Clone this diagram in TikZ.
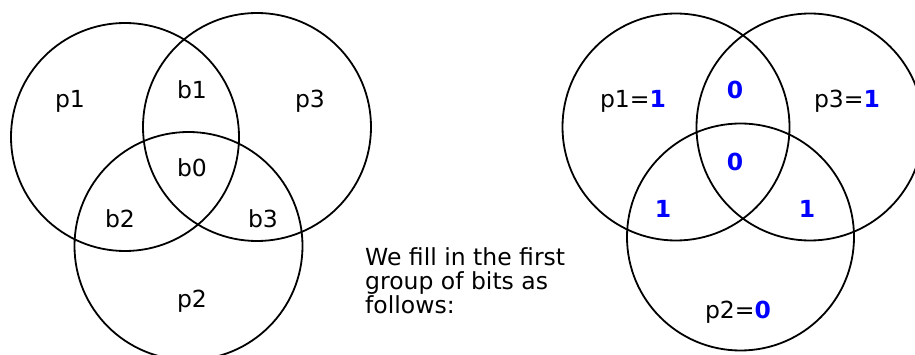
\documentclass[tikz,border=0pt]{standalone}
\usepackage{fontspec}
\setmainfont{DejaVu Sans}
\definecolor{bitblue}{RGB}{0,0,255}
\begin{document}
\begin{tikzpicture}[x=1pt,y=-1pt,
  ring/.style={draw=black,line width=1.8pt},
  lbl/.style={font=\fontsize{23.5}{24}\selectfont,inner sep=0pt,anchor=base},
  bit/.style={text=bitblue,font=\fontsize{23.5}{24}\selectfont\bfseries}]
\useasboundingbox (0,0) rectangle (915,355);
\clip (0,0) rectangle (915,355);
% left diagram: bit positions
\draw[ring] (125,137) circle[radius=114];
\draw[ring] (257,127) circle[radius=114];
\draw[ring] (188.5,246) circle[radius=114];
\node[lbl] (lp1) at (70,108) {p1};
\node[lbl] (lb1) at (192,99) {b1};
\node[lbl] (lp3) at (310,108) {p3};
\node[lbl] (lb0) at (192,177) {b0};
\node[lbl] (lb2) at (120,228) {b2};
\node[lbl] (lb3) at (263,228) {b3};
\node[lbl] (lp2) at (192,307) {p2};
% caption (base anchor sits on the last line)
\node[lbl,align=left,anchor=base west] (cap) at (365,313)
  {We fill in the first\\group of bits as\\follows:};
% right diagram: filled-in values
\draw[ring] (676,127) circle[radius=113.5];
\draw[ring] (810,127) circle[radius=113.5];
\draw[ring] (740.5,237) circle[radius=113.5];
\node[lbl] (rp1) at (633,108) {p1=\textcolor{bitblue}{\bfseries 1}};
\node[lbl,bit] (rb1) at (735,99) {0};
\node[lbl] (rp3) at (847,108) {p3=\textcolor{bitblue}{\bfseries 1}};
\node[lbl,bit] (rb0) at (735,171) {0};
\node[lbl,bit] (rb2) at (663,218) {1};
\node[lbl,bit] (rb3) at (807,218) {1};
\node[lbl] (rp2) at (738,318) {p2=\textcolor{bitblue}{\bfseries 0}};
\end{tikzpicture}
\end{document}
